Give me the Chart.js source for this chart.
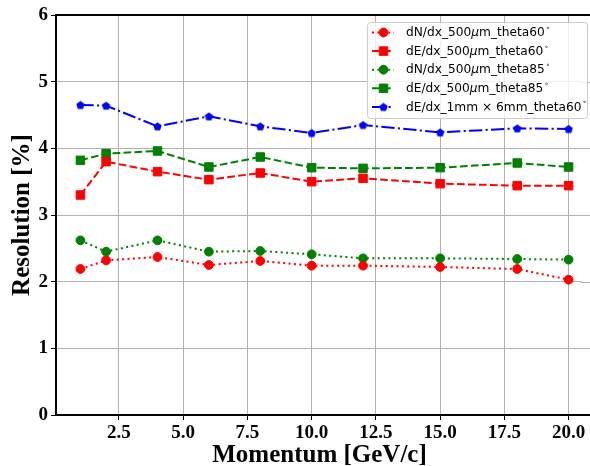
<!DOCTYPE html>
<html><head><meta charset="utf-8">
<script src="https://cdn.jsdelivr.net/npm/chart.js@4/dist/chart.umd.min.js"></script>
<style>html,body{margin:0;padding:0;overflow:hidden;background:#fff}</style>
</head><body>
<canvas id="c" width="590" height="466"></canvas>
<script>
const momentum = [1, 2, 4, 6, 8, 10, 12, 15, 18, 20];
const dNdx500_60 = [2.19, 2.32, 2.37, 2.25, 2.31, 2.24, 2.24, 2.22, 2.19, 2.03];
const dEdx500_60 = [3.30, 3.80, 3.65, 3.53, 3.63, 3.50, 3.55, 3.47, 3.44, 3.44];
const dNdx500_85 = [2.62, 2.45, 2.62, 2.45, 2.46, 2.41, 2.35, 2.35, 2.34, 2.33];
const dEdx500_85 = [3.82, 3.92, 3.96, 3.72, 3.87, 3.71, 3.70, 3.71, 3.78, 3.72];
const dEdx1x6_60 = [4.65, 4.64, 4.33, 4.48, 4.33, 4.23, 4.35, 4.24, 4.30, 4.29];
const seriesLabels = [
  'dN/dx_500μm_theta60°',
  'dE/dx_500μm_theta60°',
  'dN/dx_500μm_theta85°',
  'dE/dx_500μm_theta85°',
  'dE/dx_1mm × 6mm_theta60°'
];
const xTicks = [2.5, 5, 7.5, 10, 12.5, 15, 17.5, 20];
const yTicks = [0, 1, 2, 3, 4, 5, 6];
const xRange = [0.05, 20.56];
const xTitle = 'Momentum [GeV/c]';
const yTitle = 'Resolution [%]';

function pentagon(r, color) {
  const c = document.createElement('canvas');
  const s = Math.ceil(2 * r + 2);
  c.width = c.height = s;
  const g = c.getContext('2d');
  g.fillStyle = color;
  g.beginPath();
  for (let i = 0; i < 5; i++) {
    const a = -Math.PI / 2 + i * 2 * Math.PI / 5;
    g.lineTo(s / 2 + r * Math.cos(a), s / 2 + r * Math.sin(a) + r * 0.1);
  }
  g.closePath();
  g.fill();
  return c;
}
const pentaImg = pentagon(4.4, '#0000ff');

const pts = arr => momentum.map((m, i) => ({x: m, y: arr[i]}));
const DOT = [2, 3.4], DASH = [7.7, 3.3], DASHDOT = [13.3, 3.3, 2.1, 3.3];

const datasets = [
  {label: seriesLabels[0], data: pts(dNdx500_60), color: '#ff0000', dash: DOT, style: 'circle', r: 4.4},
  {label: seriesLabels[1], data: pts(dEdx500_60), color: '#ff0000', dash: DASH, style: 'rect', r: 6.0},
  {label: seriesLabels[2], data: pts(dNdx500_85), color: '#008000', dash: DOT, style: 'circle', r: 4.4},
  {label: seriesLabels[3], data: pts(dEdx500_85), color: '#008000', dash: DASH, style: 'rect', r: 6.0},
  {label: seriesLabels[4], data: pts(dEdx1x6_60), color: '#0000ff', dash: DASHDOT, style: pentaImg, r: 4.4}
].map(d => ({
  label: d.label, data: d.data,
  borderColor: d.color, backgroundColor: d.color,
  borderWidth: 2, borderDash: d.dash,
  pointStyle: d.style, pointRadius: d.r, pointHoverRadius: d.r,
  pointBorderWidth: 1, pointBorderColor: d.color, pointBackgroundColor: d.color,
  tension: 0, fill: false
}));

// Axes continue past the right edge of the picture (as in the cropped original)
const frame = {
  id: 'frame',
  afterDraw(chart) {
    const {ctx, chartArea: a} = chart;
    const ys = chart.scales.y;
    ctx.save();
    ctx.fillStyle = '#fff';
    ctx.fillRect(a.right - 1, a.top + 1, chart.width - a.right + 1, a.bottom - a.top - 2);
    ctx.strokeStyle = '#b0b0b0';
    ctx.lineWidth = 1;
    ctx.beginPath();
    yTicks.slice(1, -1).forEach(v => {
      const y = Math.round(ys.getPixelForValue(v)) + 0.5;
      ctx.moveTo(a.right - 2, y); ctx.lineTo(chart.width, y);
    });
    ctx.stroke();
    ctx.strokeStyle = '#000';
    ctx.lineWidth = 2;
    ctx.beginPath();
    ctx.moveTo(a.left - 1, a.top); ctx.lineTo(chart.width, a.top);
    ctx.moveTo(a.right - 2, a.bottom); ctx.lineTo(chart.width, a.bottom);
    ctx.stroke();
    ctx.restore();
  }
};

function drawRich(ctx, text, x, y, size) {
  const normal = size + 'px "DejaVu Sans"';
  const italic = 'italic ' + size + 'px "DejaVu Sans"';
  const sup = Math.round(size * 0.6) + 'px "DejaVu Sans"';
  for (const ch of text) {
    if (ch === 'μ') { ctx.font = italic; ctx.fillText(ch, x, y); x += ctx.measureText(ch).width; }
    else if (ch === '°') { ctx.font = sup; ctx.fillText('∘', x + 1, y - size * 0.4); x += ctx.measureText('∘').width + 1; }
    else { ctx.font = normal; ctx.fillText(ch, x, y); x += ctx.measureText(ch).width; }
  }
}

const legendPlugin = {
  id: 'mplLegend',
  afterDraw(chart) {
    const {ctx, chartArea: a} = chart;
    const right = chart.width - 3, top = a.top + 7;
    const w = 220, h = 96;
    const left = right - w;
    ctx.save();
    ctx.fillStyle = 'rgba(255,255,255,0.8)';
    ctx.strokeStyle = '#cccccc';
    ctx.lineWidth = 1;
    ctx.beginPath();
    ctx.roundRect(left + 0.5, top + 0.5, w, h, 3);
    ctx.fill(); ctx.stroke();
    chart.data.datasets.forEach((ds, i) => {
      const y = top + 10.5 + i * 18.6;
      const hx0 = left + 5, hx1 = left + 27, mx = left + 16.5;
      ctx.strokeStyle = ds.borderColor;
      ctx.lineWidth = 2;
      ctx.setLineDash(ds.borderDash);
      ctx.beginPath(); ctx.moveTo(hx0, y); ctx.lineTo(hx1, y); ctx.stroke();
      ctx.setLineDash([]);
      ctx.fillStyle = ds.pointBackgroundColor;
      ctx.strokeStyle = ds.pointBorderColor;
      ctx.lineWidth = 1;
      Chart.helpers.drawPoint(ctx, {pointStyle: ds.pointStyle, radius: ds.pointRadius, rotation: 0, borderWidth: 1}, mx, y);
      ctx.fillStyle = '#000';
      ctx.textBaseline = 'middle';
      ctx.textAlign = 'left';
      drawRich(ctx, ds.label, left + 39, y + 0.5, 12.2);
    });
    ctx.restore();
  }
};

const tickFont = {family: '"Liberation Serif"', weight: 'bold', size: 19};
const titleFont = {family: '"Liberation Serif"', weight: 'bold', size: 25};

new Chart(document.getElementById('c'), {
  type: 'line',
  data: {datasets},
  plugins: [frame, legendPlugin],
  options: {
    responsive: false, animation: false, devicePixelRatio: 1,
    layout: {padding: {top: 15, right: 0, left: 0, bottom: -6}},
    plugins: {legend: {display: false}, tooltip: {enabled: false}},
    scales: {
      x: {
        type: 'linear', min: xRange[0], max: xRange[1],
        afterBuildTicks: s => { s.ticks = xTicks.map(v => ({value: v})); },
        afterFit: s => { s.height = 57; s.paddingRight = 0; s.paddingLeft = 0; },
        ticks: {color: '#000', font: tickFont, padding: 2, maxRotation: 0, autoSkip: false,
                callback: v => Number(v).toFixed(1)},
        grid: {color: '#b0b0b0', lineWidth: 1, tickColor: '#000', tickLength: 5},
        border: {display: true, color: '#000', width: 2},
        title: {display: true, text: xTitle, color: '#000', font: titleFont, padding: {top: 0, bottom: 1}}
      },
      y: {
        type: 'linear', min: 0, max: 6,
        afterBuildTicks: s => { s.ticks = yTicks.map(v => ({value: v})); },
        afterFit: s => { s.width = 56; },
        ticks: {color: '#000', font: tickFont, padding: 3, callback: v => String(v)},
        grid: {color: '#b0b0b0', lineWidth: 1, tickColor: '#000', tickLength: 5},
        border: {display: true, color: '#000', width: 2},
        title: {display: true, text: yTitle, color: '#000', font: titleFont, padding: {top: 8, bottom: 0}}
      }
    }
  }
});
</script>
</body></html>
